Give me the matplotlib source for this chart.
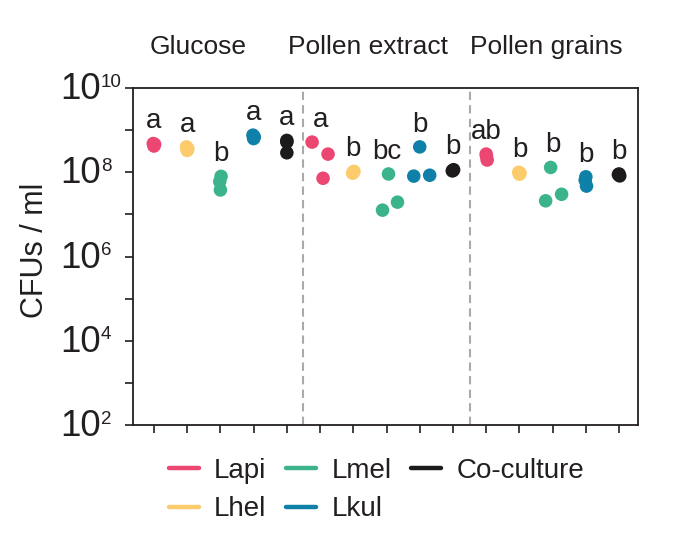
import numpy as np
import matplotlib
matplotlib.use("Agg")
import matplotlib.pyplot as plt
import matplotlib.transforms as mtransforms
from matplotlib.lines import Line2D
from matplotlib.ticker import LogLocator, NullFormatter

plt.rcParams['font.family'] = ['Liberation Sans', 'DejaVu Sans']
plt.rcParams['text.color'] = '#231f20'

groups = ["Glucose", "Pollen extract", "Pollen grains"]
strains = ["Lapi", "Lhel", "Lmel", "Lkul", "Co-culture"]
colors = ["#ec4672", "#fccb6c", "#3bb48d", "#0f80a8", "#1c1a1b"]

# CFUs / ml, three replicates per strain
glucose = [[4.2e8, 4.6e8, 4.8e8],
           [3.3e8, 3.6e8, 4.0e8],
           [8.0e7, 6.0e7, 3.8e7],
           [6.3e8, 6.9e8, 7.6e8],
           [5.7e8, 5.2e8, 2.9e8]]
pollen_extract = [[5.2e8, 2.7e8, 7.2e7],
                  [1.0e8, 1.05e8, 0.95e8],
                  [9.1e7, 1.26e7, 1.95e7],
                  [4.0e8, 8.1e7, 8.5e7],
                  [1.1e8, 1.15e8, 1.08e8]]
pollen_grains = [[2.7e8, 1.95e8, 2.4e8],
                 [9.0e7, 9.5e7, 1.0e8],
                 [1.3e8, 2.1e7, 3.0e7],
                 [7.8e7, 4.7e7, 6.5e7],
                 [9.1e7, 8.2e7, 8.8e7]]
data = [glucose, pollen_extract, pollen_grains]

letters = [["a", "a", "b", "a", "a"],
           ["a", "b", "bc", "b", "b"],
           ["ab", "b", "b", "b", "b"]]

# horizontal jitter of replicate points
jitter = [[[0, 0.02, -0.02], [0, 0.02, -0.02], [0.02, -0.02, 0], [0, 0.02, -0.02], [0, 0, 0]],
          [[-0.24, 0.24, 0.09], [0, 0.02, -0.02], [0.06, -0.12, 0.33], [0, -0.18, 0.3], [0, 0.02, -0.02]],
          [[0, 0.03, 0.01], [0, 0.02, -0.02], [-0.06, -0.21, 0.27], [0, 0.02, -0.02], [0, 0.02, -0.02]]]

exponents = [2, 4, 6, 8, 10]

fig = plt.figure(figsize=(6.77, 5.35), dpi=100)
ax = fig.add_axes([0.1965, 0.2056, 0.7459, 0.6299])

for g in range(3):
    for s in range(5):
        pos = g * 5 + s + 1
        vals = np.array(data[g][s])
        xs = pos + np.array(jitter[g][s])
        ax.scatter(xs, vals, s=95, color=colors[s], edgecolors='none', zorder=3)
        ax.annotate(letters[g][s], (pos, vals.max()), xytext=(0, 16),
                    textcoords='offset points', ha='center', va='center',
                    fontsize=20)

for xv in [5.5, 10.5]:
    ax.axvline(xv, color='#aaaaaa', lw=1.5, ls=(0, (4, 2.5)), zorder=1)

ax.set_yscale('log')
ax.set_ylim(1e2, 1e10)
ax.set_xlim(0.37, 15.57)
ax.set_yticks([10.0 ** e for e in exponents])
ax.set_yticklabels([])
ax.yaxis.set_minor_locator(LogLocator(base=10, subs=(1.0,), numticks=20))
ax.yaxis.set_minor_formatter(NullFormatter())
ax.set_xticks(np.arange(1, 16))
ax.set_xticklabels([])
ax.tick_params(axis='both', which='both', direction='out', length=6, width=1.2, color='#231f20')
for sp in ax.spines.values():
    sp.set_linewidth(1.3)
    sp.set_color('#231f20')

# y tick labels: "10" with a raised exponent, left aligned
lab_tr = mtransforms.blended_transform_factory(fig.transFigure, ax.transData)
base_tr = mtransforms.offset_copy(lab_tr, fig=fig, x=0, y=-8, units='points')
sup_tr = mtransforms.offset_copy(lab_tr, fig=fig, x=0, y=1.0, units='points')
for e in exponents:
    ax.text(0.0895, 10.0 ** e, "10", transform=base_tr, ha='left', va='baseline',
            fontsize=26.5, clip_on=False)
    ax.text(0.149, 10.0 ** e, str(e), transform=sup_tr, ha='left', va='baseline',
            fontsize=13.5, clip_on=False)

fig.text(35 / 677, 1 - 250 / 535, "CFUs / ml", rotation=90, ha='center', va='center',
         fontsize=22)

trans = mtransforms.blended_transform_factory(ax.transData, fig.transFigure)
for name, xg in zip(groups, [2.33, 7.45, 12.8]):
    ax.text(xg, 0.913, name, transform=trans, ha='center', va='center', fontsize=19)

handles = [Line2D([], [], color=c, lw=3.2, solid_capstyle='round') for c in colors]
fig.legend(handles, strains, loc='upper left', bbox_to_anchor=(0.2496, 0.144), ncol=3,
           frameon=False, fontsize=20, handlelength=1.08, handletextpad=0.54,
           columnspacing=0.72, labelspacing=0.45, borderpad=0, borderaxespad=0)

fig.savefig("out.png", dpi=100)
